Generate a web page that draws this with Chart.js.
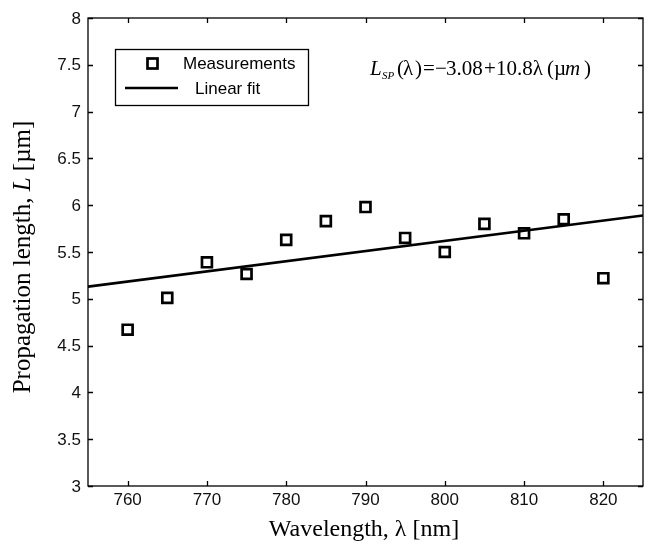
<!DOCTYPE html>
<html><head><meta charset="utf-8">
<script src="https://cdn.jsdelivr.net/npm/chart.js@4/dist/chart.umd.min.js"></script>
<style>html,body{margin:0;padding:0;background:#fff;}#wrap{width:649px;height:545px;}</style>
</head><body><div id="wrap"><canvas id="c" width="649" height="545"></canvas></div>
<script>
const wavelengths = [760, 765, 770, 775, 780, 785, 790, 795, 800, 805, 810, 815, 820];
const lengths = [4.67, 5.01, 5.39, 5.265, 5.63, 5.83, 5.98, 5.65, 5.5, 5.8, 5.7, 5.85, 5.22];
const fitX = [755, 825];
const fitY = [5.13, 5.89];
const xTicks = [760, 770, 780, 790, 800, 810, 820];
const yTicks = [3, 3.5, 4, 4.5, 5, 5.5, 6, 6.5, 7, 7.5, 8];
const legendLabels = ['Measurements', 'Linear fit'];

const sans = '"Liberation Sans", Arial, sans-serif';
const serif = '"Liberation Serif", "Times New Roman", serif';

const decor = {
  id: 'decor',
  afterDraw(chart) {
    const ctx = chart.ctx, a = chart.chartArea;
    const xs = chart.scales.x, ys = chart.scales.y;
    ctx.save();
    // frame
    ctx.strokeStyle = '#000'; ctx.lineWidth = 1.3;
    ctx.strokeRect(a.left, a.top, a.right - a.left, a.bottom - a.top);
    // inward ticks
    const tl = 5;
    ctx.beginPath();
    xTicks.forEach(v => { const p = Math.round(xs.getPixelForValue(v)) + 0.5;
      ctx.moveTo(p, a.bottom); ctx.lineTo(p, a.bottom - tl);
      ctx.moveTo(p, a.top); ctx.lineTo(p, a.top + tl); });
    yTicks.forEach(v => { const p = Math.round(ys.getPixelForValue(v)) + 0.5;
      ctx.moveTo(a.left, p); ctx.lineTo(a.left + tl, p);
      ctx.moveTo(a.right, p); ctx.lineTo(a.right - tl, p); });
    ctx.stroke();
    // tick labels
    ctx.fillStyle = '#111'; ctx.font = '17px ' + sans;
    ctx.textAlign = 'center'; ctx.textBaseline = 'top';
    xTicks.forEach(v => ctx.fillText(String(v), xs.getPixelForValue(v), a.bottom + 6));
    ctx.textAlign = 'right'; ctx.textBaseline = 'middle';
    yTicks.forEach(v => ctx.fillText(String(v), a.left - 7, ys.getPixelForValue(v) + 1));
    // axis titles
    ctx.fillStyle = '#000';
    ctx.textBaseline = 'alphabetic'; ctx.textAlign = 'left';
    ctx.font = '24px ' + serif;
    const xt = 'Wavelength, λ [nm]';
    const xw = ctx.measureText(xt).width;
    ctx.fillText(xt, 364 - xw / 2, 536);
    // y title with italic L
    const p1 = 'Propagation length, ', p2 = 'L', p3 = ' [µm]';
    const yf = '25px ' + serif, yfi = 'italic 25px ' + serif;
    ctx.font = yf; const w1 = ctx.measureText(p1).width, w3 = ctx.measureText(p3).width;
    ctx.font = yfi; const w2 = ctx.measureText(p2).width;
    const tw = w1 + w2 + w3;
    ctx.save();
    ctx.translate(30, 257);
    ctx.rotate(-Math.PI / 2);
    let x0 = -tw / 2;
    ctx.font = yf; ctx.fillText(p1, x0, 0); x0 += w1;
    ctx.font = yfi; ctx.fillText(p2, x0, 0); x0 += w2;
    ctx.font = yf; ctx.fillText(p3, x0, 0);
    ctx.restore();
    // legend
    ctx.lineWidth = 1.3; ctx.strokeStyle = '#000';
    ctx.fillStyle = '#fff';
    ctx.fillRect(115, 49, 193, 56);
    ctx.strokeRect(115.5, 49.5, 193, 56);
    ctx.lineWidth = 2.7;
    ctx.strokeRect(147.5, 58.5, 10, 10);
    ctx.beginPath(); ctx.moveTo(125, 88); ctx.lineTo(178, 88); ctx.stroke();
    ctx.fillStyle = '#000';
    ctx.font = '17px ' + sans;
    ctx.textBaseline = 'middle'; ctx.textAlign = 'left';
    ctx.fillText(legendLabels[0], 183, 64);
    ctx.fillText(legendLabels[1], 195, 89);
    // equation
    ctx.textBaseline = 'alphabetic';
    const ey = 75;
    const put = (t, f, x, dy) => { ctx.font = f; ctx.fillText(t, x, ey + (dy || 0)); };
    const ef = '21px ' + serif, efi = 'italic 21px ' + serif;
    put('L', efi, 370);
    put('SP', 'italic 11px ' + serif, 382, 4);
    put('(', ef, 397);
    put('λ', ef, 403);
    put(')', ef, 415);
    put('=', ef, 423);
    put('−', ef, 435);
    put('3.08', ef, 446);
    put('+', ef, 484);
    put('10.8λ', ef, 496);
    put('(', ef, 547);
    put('µ', ef, 554);
    put('m', efi, 565);
    put(')', ef, 584);
    ctx.restore();
  }
};

new Chart(document.getElementById('c'), {
  type: 'scatter',
  data: {
    datasets: [
      { label: legendLabels[0], data: wavelengths.map((w, i) => ({ x: w, y: lengths[i] })),
        pointStyle: 'rect', pointRadius: 7, pointBorderWidth: 2.7, pointBorderColor: '#000',
        pointBackgroundColor: 'rgba(0,0,0,0)', showLine: false, order: 1 },
      { label: legendLabels[1], data: fitX.map((w, i) => ({ x: w, y: fitY[i] })),
        showLine: true, borderColor: '#000', borderWidth: 2.7, pointRadius: 0, order: 2 }
    ]
  },
  options: {
    responsive: false, animation: false, devicePixelRatio: 1,
    layout: { autoPadding: false, padding: { top: 18, right: 6, left: 0, bottom: 0 } },
    plugins: { legend: { display: false }, tooltip: { enabled: false } },
    scales: {
      x: { type: 'linear', min: 755, max: 825, grid: { display: false }, border: { display: false },
           ticks: { display: false },
           afterFit(s) { s.height = 59; s.paddingLeft = 0; s.paddingRight = 0; } },
      y: { type: 'linear', min: 3, max: 8, grid: { display: false }, border: { display: false },
           ticks: { display: false },
           afterFit(s) { s.width = 88; s.paddingTop = 0; s.paddingBottom = 0; } }
    }
  },
  plugins: [decor]
});
</script></body></html>
